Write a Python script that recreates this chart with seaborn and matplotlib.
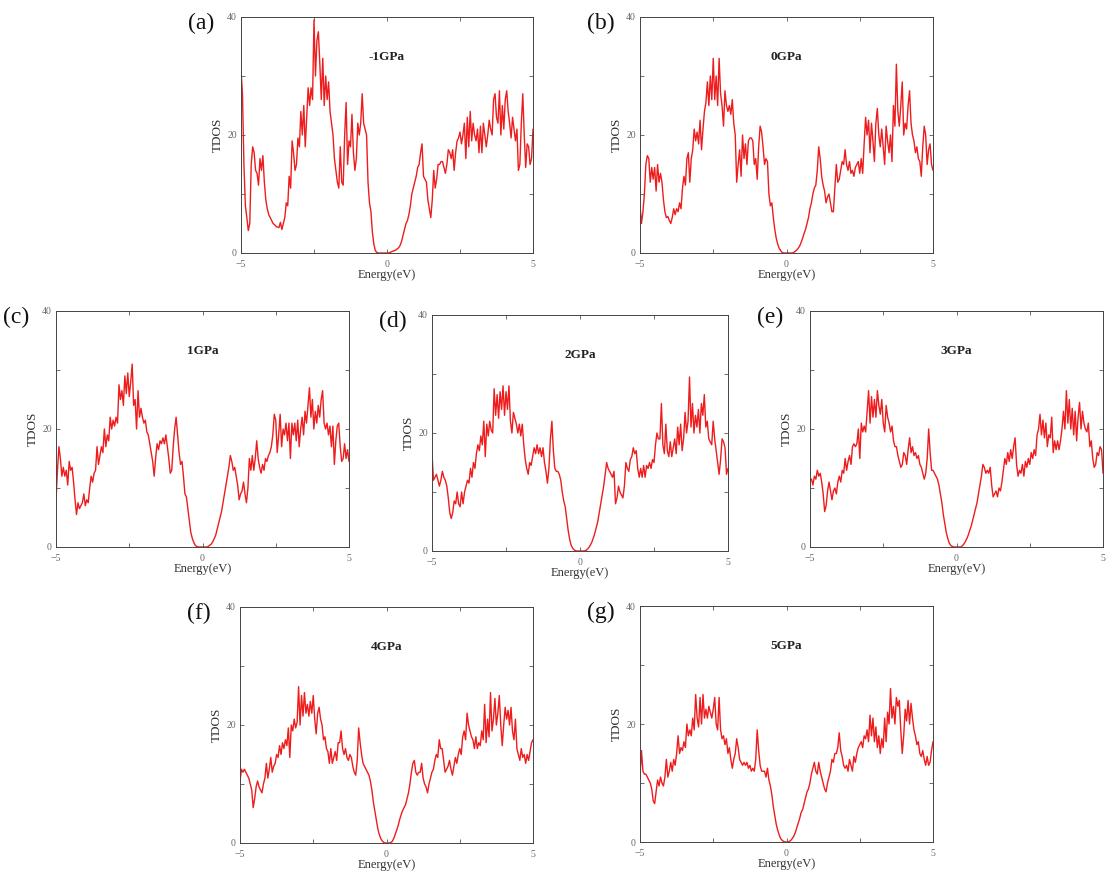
import numpy as np
import pandas as pd
import matplotlib
matplotlib.use("Agg")
import matplotlib.pyplot as plt
from matplotlib.ticker import MultipleLocator
import seaborn as sns

# Total density of states of the compound under different pressures,
# sampled every 0.05 eV from -5 eV to 5 eV.
pressures = ["-1GPa", "0GPa", "1GPa", "2GPa", "3GPa", "4GPa", "5GPa"]
panel_letters = ["a", "b", "c", "d", "e", "f", "g"]

tdos_m1gpa = [
    31, 27, 15, 8, 6, 3.8, 5, 15, 18, 17,
    14, 13.5, 11.5, 16, 14, 16.5, 12, 9, 7.5, 6.5,
    6, 5.5, 5, 4.8, 4.5, 4.4, 4.3, 5.2, 4, 5,
    6, 8.5, 8, 13, 11, 19, 17, 14, 15, 19.5,
    18, 24, 20, 25, 18, 23, 28, 25, 28, 26,
    39.5, 30, 36, 37.5, 32, 26, 33, 25, 30, 26,
    29, 24, 22, 20, 16, 14, 12, 11, 18, 12,
    11.5, 20, 25.5, 15, 19, 18, 23.5, 17, 14, 16,
    22, 20, 22, 27, 22, 21, 20, 12, 8.5, 7,
    3.5, 1.5, 0.4, 0.1, 0, 0, 0, 0, 0, 0,
    0, 0, 0.1, 0.2, 0.3, 0.4, 0.5, 0.7, 0.9, 1.3,
    2, 3, 4, 5, 5.5, 6.5, 8, 10, 11, 12,
    13, 14.5, 15, 17, 18.5, 13, 12.5, 12, 9, 7.5,
    6, 9, 14, 11, 12.5, 15, 15, 15.5, 15.5, 14.5,
    13.5, 15, 17.5, 17, 16, 17.5, 14, 17, 19, 19.5,
    20.5, 18.5, 20, 22, 16, 23, 18, 24, 19, 22,
    20, 19, 21, 17, 21.5, 17, 22, 20, 18, 20,
    22.5, 21, 20, 26, 27, 23, 22, 27.5, 20, 25,
    21, 26, 27.5, 24, 22, 19.5, 23, 21, 19, 21,
    14, 15, 22, 27, 20, 14.5, 18.5, 18, 15, 16,
    21,
]

tdos_0gpa = [
    8, 5, 7, 10, 15, 16.5, 16, 12, 14.5, 12.5,
    14.5, 10.5, 15, 12, 13.5, 12, 9, 7, 6, 6.2,
    5.5, 5, 6, 7.5, 6.5, 7.5, 7, 8.5, 7.5, 11,
    13, 11.5, 16, 17, 12, 16, 17.5, 21, 19, 20.5,
    18.5, 22.5, 17.5, 21, 24, 25.5, 29, 25, 30, 26,
    33, 26, 30, 25, 33, 27, 25, 21.5, 27.5, 25,
    24, 25, 23.5, 26, 22, 20, 12, 15, 17.5, 13,
    20, 16, 18.5, 15, 19, 19.5, 19.5, 19, 15, 16,
    12.5, 18, 21.5, 20.5, 18, 15, 16, 15.5, 10, 8,
    8.5, 6, 4, 2.5, 1.5, 0.8, 0.4, 0.1, 0, 0,
    0, 0, 0, 0, 0, 0.1, 0.3, 0.5, 0.8, 1.2,
    1.8, 2.5, 3.3, 4, 5, 6, 7.5, 8.5, 10, 11,
    11.5, 14, 18, 16, 13, 11.5, 10.5, 8.5, 9.5, 10,
    8.5, 7, 7, 11, 15, 12, 12.5, 14, 15.5, 15,
    17.5, 15, 14, 15.5, 13.5, 14, 13, 14.5, 15, 15.5,
    13.5, 16, 13.5, 18.5, 23, 20, 22.5, 17, 22, 19,
    15.5, 22, 24.5, 20, 18, 21, 18, 15, 21.5, 19,
    17, 20, 15.5, 25, 21.5, 32, 24, 21.5, 25, 29,
    20, 22, 21, 25, 27.5, 22, 20, 19, 17, 18,
    16, 15.5, 13, 18, 21.5, 20, 15, 17.5, 18.5, 15,
    14,
]

tdos_1gpa = [
    8, 13, 17, 15, 12, 13.5, 12, 13, 10.5, 14.5,
    13, 13.5, 11, 8, 5.5, 7.5, 6.5, 7, 7.5, 9,
    7, 8, 7.5, 10, 12, 11, 12.5, 13, 17, 14,
    15.5, 17, 16, 20, 17, 19, 18, 22, 20, 21.5,
    20.5, 22, 21, 27.5, 25, 26.5, 24, 29, 26, 29.5,
    25.5, 28, 31, 24, 25, 20, 26.5, 22, 23.5, 22,
    21, 21.5, 19.5, 19, 17.5, 16, 14.5, 12, 15, 17.5,
    16.5, 18, 17.5, 18.5, 17.5, 19, 17, 15, 12.5, 13,
    17, 20, 22, 19, 16, 14, 14.5, 12, 9, 8.5,
    6.5, 4.5, 2.5, 1.5, 0.8, 0.3, 0.1, 0, 0, 0,
    0, 0, 0, 0, 0.1, 0.3, 0.5, 0.9, 1.4, 2,
    3, 4, 5, 6, 7.5, 9, 10.5, 12, 13.5, 15.5,
    14.5, 13, 13.5, 12, 10.5, 8, 9, 9.5, 11, 9,
    7.5, 10, 15, 13, 15.5, 13, 15, 18, 15, 13.5,
    12.5, 14, 13, 15, 14.5, 15.5, 16, 17, 19, 22.5,
    21.5, 16, 19, 22.5, 17, 20, 19, 21, 18, 21,
    15, 21, 19, 21, 18, 21.5, 17, 20, 22, 19,
    23, 21, 24, 27, 22, 25, 20, 23, 21, 24,
    22, 25, 26.5, 21, 20, 21, 19, 20.5, 17, 20.5,
    14, 18, 20.5, 21, 17, 14.5, 15, 17.5, 15, 16.5,
    14.5,
]

tdos_2gpa = [
    16.5, 12, 12.5, 13, 12, 11, 12, 13.5, 12.5, 12,
    11, 9, 6.5, 5.5, 6.5, 8.5, 8, 10, 8, 7.5,
    10, 8, 10, 11, 12, 11.5, 14, 12.5, 15, 14,
    16.5, 18, 17, 19.5, 18, 22, 16, 21.5, 19.5, 22,
    20.5, 20, 27.5, 23, 26.5, 22.5, 27, 24, 28, 23,
    27, 24, 28, 22, 20, 23.5, 22.5, 21.5, 20, 21.5,
    19.5, 21.5, 18, 15.5, 14, 13, 15, 14.5, 16, 17.5,
    16.5, 18, 16.5, 17.5, 16, 17.5, 15, 13.5, 11.5, 14,
    19, 22, 17, 14, 13.5, 13.5, 13, 12, 10, 8.5,
    7.5, 5.5, 3.5, 2, 1, 0.5, 0.2, 0.05, 0, 0,
    0, 0, 0, 0, 0.1, 0.3, 0.6, 1, 1.5, 2.2,
    3, 4, 5, 6.5, 8, 9.5, 11, 13, 15, 14,
    13.5, 13, 12.5, 13.5, 8, 9, 11, 10, 9.5, 9,
    11, 15, 14, 13.5, 15.5, 16, 17.5, 16.5, 17, 14,
    12.5, 14, 12.5, 14.5, 12.5, 14.5, 14, 15, 14, 15.5,
    15, 18, 20, 19, 19, 25, 18, 16.5, 21.5, 17,
    16, 18.5, 16, 17.5, 19, 16.5, 21, 18, 21.5, 17,
    19, 23.5, 20, 22, 29.5, 21, 25, 20, 23, 21,
    24, 20, 25, 23, 26.5, 21, 22, 19, 18.5, 18,
    22, 19, 17, 15, 13, 15.5, 19, 18.5, 17.5, 13,
    14,
]

tdos_3gpa = [
    11.5, 11.5, 10.5, 12, 11.5, 13, 12, 12.5, 11, 9,
    6, 7, 9.5, 11, 9.5, 8, 9.5, 10, 9, 11,
    12, 11, 13, 12.5, 15, 13, 14.5, 15.5, 14, 17,
    17.5, 17, 17.5, 20, 15, 21, 19.5, 20.5, 19.5, 23,
    26.5, 21, 25.5, 22, 25, 22, 26.5, 24, 22.5, 25,
    21, 19.5, 24, 22, 21, 19.5, 20.5, 18, 17, 17,
    15.5, 14.5, 13.5, 14, 16, 15.5, 14, 16.5, 18.5, 16,
    17, 15.5, 16, 15, 15.5, 14, 13.5, 12.5, 11.5, 12.5,
    15, 20, 16, 13, 13, 12.5, 12, 11.5, 10.5, 9,
    7.5, 5.5, 4, 2.5, 1.5, 0.7, 0.3, 0.1, 0, 0,
    0, 0, 0, 0, 0.2, 0.5, 0.9, 1.4, 2, 2.8,
    3.5, 4.5, 5.5, 6.5, 7.5, 9, 10.5, 12, 14, 13.5,
    12.5, 13, 12.5, 13.5, 10.5, 8.5, 9, 9.5, 8.5, 10,
    9.5, 11, 13, 15, 14, 16, 14.5, 16.5, 15, 17,
    18.5, 14, 12, 13, 12.5, 14, 12, 14.5, 13.5, 15,
    14, 16, 15, 16.5, 15.5, 19, 20, 22.5, 19, 21.5,
    18.5, 21, 17, 19, 18.5, 22, 16, 18, 16.5, 18,
    16.5, 18, 20, 23, 20, 26.5, 21, 25, 20, 23.5,
    19, 23, 18, 22, 24.5, 20, 23, 21, 20, 19.5,
    21, 17, 18, 15, 13.5, 14, 16, 15.5, 17, 16.5,
    12.5,
]

tdos_4gpa = [
    10.5, 12.5, 12, 12.5, 12, 11.5, 11, 10, 9, 6,
    7.5, 9.5, 10.5, 9.5, 9, 8.5, 10, 11, 13.5, 11,
    12.5, 14.5, 12, 13, 13.5, 15, 14.5, 16.5, 15, 17,
    16, 17.5, 16.5, 19.5, 14.5, 20, 19, 21, 19.5, 20.5,
    26.5, 20, 25, 21.5, 25.5, 22, 23.5, 21.5, 24, 22,
    25, 21, 18.5, 22, 23, 21, 20, 17.5, 18, 16,
    15.5, 13.5, 16, 13.5, 14.5, 15.5, 14, 17, 17, 19,
    16, 15, 16, 14.5, 14, 15, 14.5, 13, 12, 11.5,
    14, 19.5, 17, 15, 13.5, 13, 12.5, 12, 11.5, 10.5,
    9, 7, 5.5, 4, 2.5, 1.5, 0.8, 0.4, 0.1, 0,
    0, 0, 0, 0.1, 0.3, 0.8, 1.5, 2.2, 3, 4,
    4.8, 5.5, 6, 6.5, 7.5, 8.5, 10, 12, 13.5, 14,
    12, 11.5, 12, 12, 13.5, 11, 10, 9.5, 8.5, 10,
    11, 12, 12.5, 14, 15, 14.5, 17.5, 16, 16, 14,
    12, 12.5, 13, 14, 12.5, 11.5, 13, 14.5, 13.5, 15,
    16, 15, 18, 19, 17.5, 22, 20, 19, 18, 17.5,
    16, 18, 16, 17, 16.5, 19, 17.5, 23.5, 17, 21,
    18, 25.5, 19, 21, 24.5, 20, 22, 25, 20, 16.5,
    20, 23, 21, 22.5, 20, 23, 19, 17.5, 21, 16,
    15, 14, 16, 14.5, 15, 13.5, 15, 14, 15.5, 17,
    17.5,
]

tdos_5gpa = [
    11, 15.5, 12, 11.5, 11.5, 11, 10.5, 10, 9, 7,
    6.5, 8.5, 10.5, 9.5, 11, 10, 9.5, 11, 14, 11,
    12, 13.5, 12, 14, 13, 15, 18, 15, 16, 15.5,
    17, 16, 20, 18, 19, 18, 21, 19, 25, 21,
    19.5, 24.5, 20, 25, 21, 22.5, 21, 23, 22, 21,
    22.5, 24.5, 20, 19, 24.5, 19, 17.5, 18, 16.5, 17.5,
    15, 16, 14, 12.5, 14, 15, 17.5, 16, 14, 13.5,
    13, 13.5, 13, 13.5, 12.5, 13, 12, 12.5, 12, 14,
    19, 15.5, 13, 12, 12, 12, 11, 12.5, 10.5, 9.5,
    8, 6, 4.5, 3, 2, 1.2, 0.6, 0.3, 0.1, 0,
    0, 0, 0.1, 0.3, 0.6, 1, 1.6, 2.4, 3.2, 4,
    5, 5.5, 6.5, 7.5, 8.5, 9, 10, 11.5, 12.5, 13.5,
    12, 11.5, 13.5, 12, 11, 10, 9, 8.5, 10, 11,
    12, 14, 13.5, 15, 15, 16, 18.5, 15.5, 14.5, 13,
    12.5, 13, 12, 14, 13, 12, 14.5, 13.5, 15, 16,
    16.5, 17, 16, 18, 17.5, 19, 17, 21.5, 18, 21,
    17, 19.5, 16, 18, 15, 17.5, 16, 21, 17, 22,
    20, 26, 21, 23, 20, 24.5, 23, 24, 19, 15,
    18, 22.5, 20.5, 24, 20, 23.5, 21, 19, 18, 16.5,
    17, 15, 14.5, 15.5, 14, 13, 14.5, 13, 13.5, 15.5,
    17,
]

series = [tdos_m1gpa, tdos_0gpa, tdos_1gpa, tdos_2gpa,
          tdos_3gpa, tdos_4gpa, tdos_5gpa]

sns.set_style("ticks")
plt.rcParams["font.family"] = ["Liberation Serif", "DejaVu Serif"]
plt.rcParams["axes.unicode_minus"] = True

W, H = 1108, 877
fig = plt.figure(figsize=(W / 100, H / 100), dpi=100)

# panel frames in pixels: left, top, right, bottom
frames = [
    (241, 17, 533, 253),
    (640, 17, 933, 253),
    (56, 311, 349, 547),
    (432, 315, 728, 551),
    (810, 311, 1103, 547),
    (240, 607, 533, 843),
    (640, 606, 933, 842),
]

for letter, label, values, (l, t, r, b) in zip(panel_letters, pressures, series, frames):
    ax = fig.add_axes([l / W, 1 - b / H, (r - l) / W, (b - t) / H])
    energy = np.linspace(-5, 5, len(values))
    df = pd.DataFrame({"Energy": energy, "TDOS": values})
    sns.lineplot(data=df, x="Energy", y="TDOS", ax=ax, color="#ee1c1c",
                 linewidth=1.0, estimator=None)
    ax.set_xlim(-5, 5)
    ax.set_ylim(0, 40)
    ax.xaxis.set_major_locator(MultipleLocator(5))
    ax.xaxis.set_minor_locator(MultipleLocator(2.5))
    ax.yaxis.set_major_locator(MultipleLocator(20))
    ax.yaxis.set_minor_locator(MultipleLocator(10))
    ax.tick_params(which="both", direction="in", top=True, right=True,
                   length=3, width=0.6, color="#555555",
                   labelsize=7, labelcolor="#666666")
    ax.tick_params(axis="x", pad=5)
    ax.tick_params(axis="y", pad=3)
    for s in ax.spines.values():
        s.set_linewidth(0.7)
        s.set_color("#444444")
    ax.set_xlabel("Energy(eV)", fontsize=9, labelpad=0, color="#333333")
    ax.set_ylabel("TDOS", fontsize=9.5, labelpad=2, color="#333333")
    ax.text(0.5, 0.83, label, transform=ax.transAxes, ha="center", va="center",
            fontsize=9.5, fontweight="bold", color="#222222")
    fig.text((l - 53) / W, 1 - (t + 6) / H, f"({letter})", fontsize=17,
             ha="left", va="center", color="#111111")

fig.savefig("out.png", dpi=100)
